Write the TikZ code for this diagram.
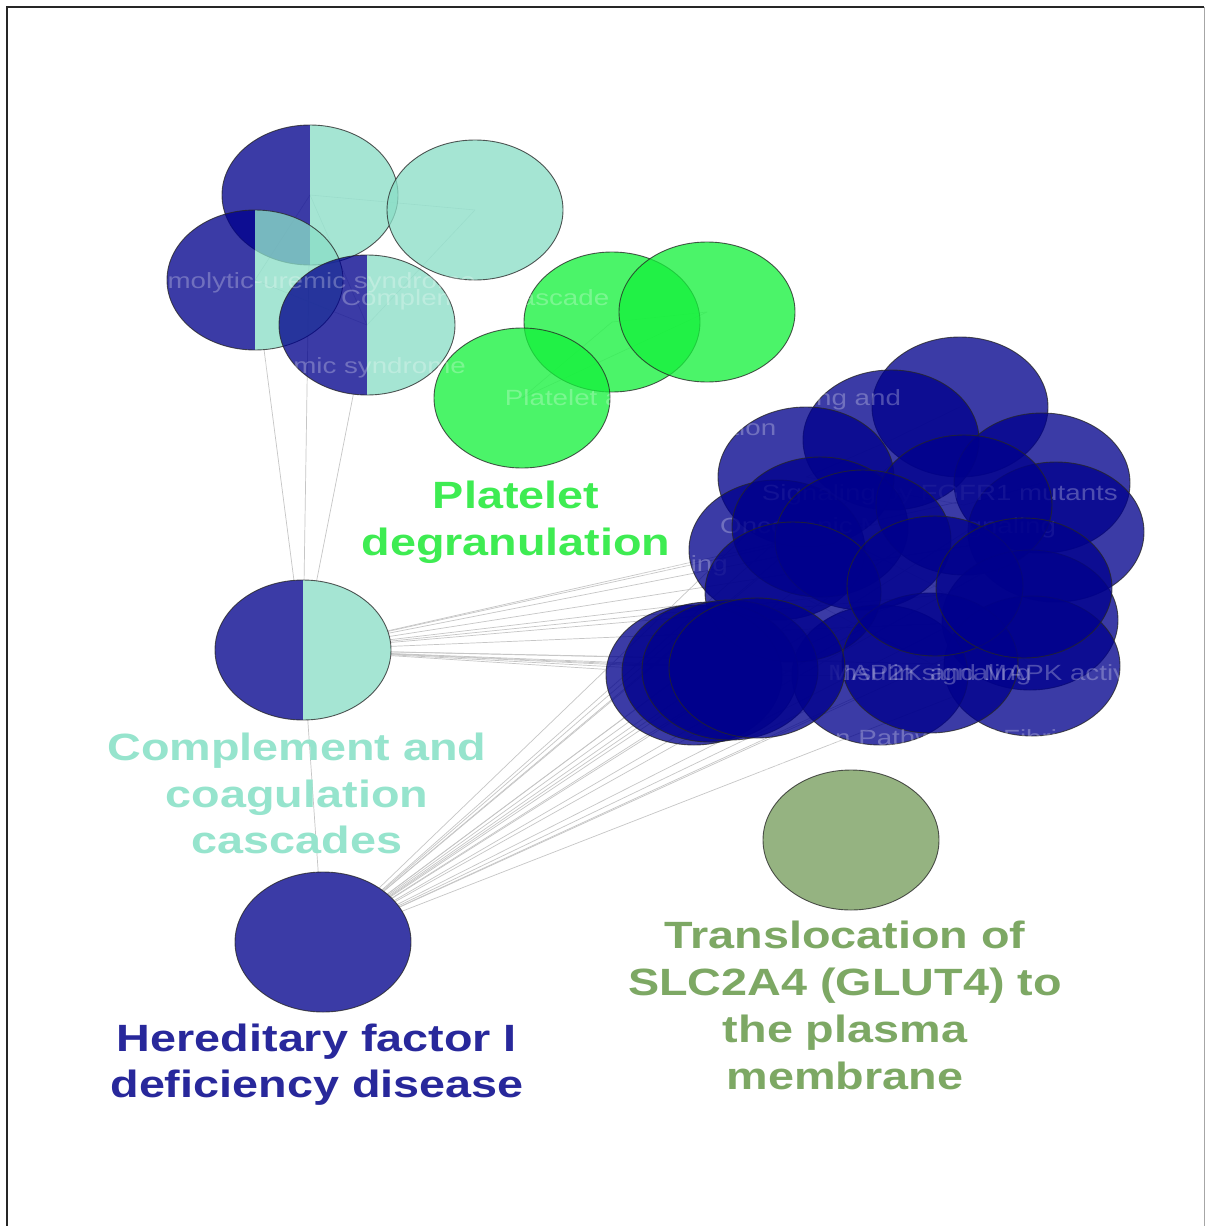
\documentclass[tikz,border=0pt]{standalone}
\usepackage{fontspec}
\setmainfont{Liberation Sans}
\newfontfamily\labfont[FakeStretch=1.23]{Liberation Sans}
\newfontfamily\faintfont[FakeStretch=1.26]{Liberation Sans}
\usetikzlibrary{shapes.geometric}
\pgfdeclarelayer{bg}
\pgfsetlayers{bg,main}
\definecolor{navyB}{RGB}{0,0,140}
\definecolor{aquaC}{RGB}{138,222,199}
\definecolor{greenG}{RGB}{21,241,60}
\definecolor{oliveT}{RGB}{118,157,92}
\definecolor{platC}{RGB}{62,236,82}
\definecolor{compC}{RGB}{150,228,205}
\definecolor{herC}{RGB}{40,40,155}
\definecolor{trC}{RGB}{125,168,100}
\begin{document}
\begin{tikzpicture}[x=1pt,y=-1pt,
  nd/.style={ellipse, minimum width=176pt, minimum height=140pt, inner sep=0pt, outer sep=0pt,
             draw=black!85, line width=0.9pt, opacity=0.77},
  bluenode/.style={nd, fill=navyB},
  cyannode/.style={nd, fill=aquaC},
  greennode/.style={nd, fill=greenG},
  olivenode/.style={nd, fill=oliveT},
  splitnode/.style={nd, path picture={
      \fill[navyB, fill opacity=0.77] (path picture bounding box.south west) rectangle (path picture bounding box.north);
      \fill[aquaC, fill opacity=0.77] (path picture bounding box.south) rectangle (path picture bounding box.north east);}},
  lnk/.style={draw=gray!45, line width=0.7pt},
  ilnk/.style={draw=gray!30, line width=0.6pt},
  ftx/.style={text=white, text opacity=0.27, font=\faintfont\fontsize{22}{30}\selectfont, inner sep=0pt, anchor=base west},
  lab/.style={font=\labfont\bfseries\fontsize{38}{47}\selectfont, inner sep=0pt, anchor=base}
]
\useasboundingbox (0,0) rectangle (1205,1226);
\begin{pgfonlayer}{bg}
\fill[white] (0,0) rectangle (1205,1226);
\end{pgfonlayer}
% frame
\draw[line width=2pt, black!85] (7,1226) -- (7,7) -- (1204,7);
\draw[gray!70, line width=1pt] (1204,7) -- (1204,1226);

% top cluster
\node[splitnode] (hA) at (310,195) {};
\node[cyannode] (hB) at (475,210) {};
\node[splitnode] (hC) at (255,280) {};
\node[splitnode] (hD) at (367,325) {};
\node[ftx] (tHUS) at (132,288) {Hemolytic-uremic syndrome};
% green cluster
\node[greennode] (g1) at (612,322) {};
\node[greennode] (g2) at (707,312) {};
\node[greennode] (g3) at (522,398) {};
\node[ftx] (tCC) at (341,305) {Complement cascade};
\node[ftx] (taHUS) at (22,373) {Atypical hemolytic-uremic syndrome};
% blue cluster
\node[bluenode] (b1) at (960,407) {};
\node[bluenode] (b2) at (891,440) {};
\node[bluenode] (b3) at (806,477) {};
\node[ftx, anchor=base, align=center] (tPA) at (703,435) {Platelet activation, signaling and\\aggregation};
\node[bluenode] (b4) at (1042,483) {};
\node[bluenode] (b5) at (1056,532) {};
\node[bluenode] (b6) at (777,550) {};
\node[ftx, anchor=base east] (tFG) at (1118,500) {Signaling by FGFR1 mutants};
\node[ftx] (tON) at (720,533) {Oncogenic MAPK signaling};
\node[ftx, anchor=base east] (tPI) at (728,571) {FLT3 Signaling};
\node[bluenode] (b7) at (820,527) {};
\node[bluenode] (b9) at (964,505) {};
\node[bluenode] (b8) at (863,540) {};
\node[bluenode] (b16) at (1030,620) {};
\node[bluenode] (b14) at (1032,666) {};
\node[bluenode] (b15) at (880,675) {};
\node[bluenode] (b12) at (793,592) {};
\node[bluenode] (b13) at (930,663) {};
\node[bluenode] (b10) at (935,586) {};
\node[bluenode] (b11) at (1024,588) {};
\node[ftx] (tIN) at (834,680) {Insulin signaling};
\node[ftx] (tMK) at (828,680) {MAP2K and MAPK activation};
\node[ftx, align=left] (tCP) at (738,775) {Common Pathway of Fibrin\\Clot Formation};
\node[bluenode] (b17) at (694,675) {};
\node[bluenode] (b18) at (710,672) {};
\node[bluenode] (b19) at (730,670) {};
\node[bluenode] (b20) at (757,668) {};
% single nodes
\node[splitnode] (cmp) at (303,650) {};
\node[bluenode] (her) at (323,942) {};
\node[olivenode] (tr) at (851,840) {};

% edges
\begin{pgfonlayer}{bg}
\foreach \t in {hA,hC,hD,her} \draw[lnk] (cmp) -- (\t);
\draw[ilnk] (hA.center) -- (hB.center);
\draw[ilnk] (hA.center) -- (hC.center);
\draw[ilnk] (hA.center) -- (hD.center);
\draw[ilnk] (hC.center) -- (hD.center);
\draw[ilnk] (hB.center) -- (hD.center);
\draw[ilnk] (g1.center) -- (g2.center);
\draw[ilnk] (g1.center) -- (g3.center);
\draw[ilnk] (g2.center) -- (g3.center);
\foreach \t in {b4,b5,b8,b9,b10,b11,b12,b13,b14,b15,b16,b17,b18,b19,b20}
  \draw[lnk] (cmp) -- (\t);
\foreach \t in {b1,b2,b3,b4,b5,b6,b7,b8,b9,b10,b11,b12,b13,b14,b15,b16,b17,b18,b19,b20}
  \draw[lnk] (her) -- (\t);
\draw[ilnk] (b1.center) -- (b2.center);
\draw[ilnk] (b2.center) -- (b3.center);
\draw[ilnk] (b3.center) -- (b9.center);
\draw[ilnk] (b9.center) -- (b4.center);
\draw[ilnk] (b7.center) -- (b10.center);
\draw[ilnk] (b12.center) -- (b13.center);
\draw[ilnk] (b10.center) -- (b14.center);
\draw[ilnk] (b20.center) -- (b10.center);
\draw[ilnk] (b17.center) -- (b15.center);
\draw[ilnk] (b6.center) -- (b8.center);
\end{pgfonlayer}

% main labels
\node[lab, text=platC] (pd1) at (516,508) {Platelet};
\node[lab, text=platC] (pd2) at (516,555) {degranulation};
\node[lab, text=compC] (cc1) at (297,760) {Complement and};
\node[lab, text=compC] (cc2) at (297,807) {coagulation};
\node[lab, text=compC] (cc3) at (297,853) {cascades};
\node[lab, text=herC] (hf1) at (317,1051) {Hereditary factor I};
\node[lab, text=herC] (hf2) at (317,1097) {deficiency disease};
\node[lab, text=trC] (tl1) at (845,948) {Translocation of};
\node[lab, text=trC] (tl2) at (845,995) {SLC2A4 (GLUT4) to};
\node[lab, text=trC] (tl3) at (845,1042) {the plasma};
\node[lab, text=trC] (tl4) at (845,1089) {membrane};
\end{tikzpicture}
\end{document}
